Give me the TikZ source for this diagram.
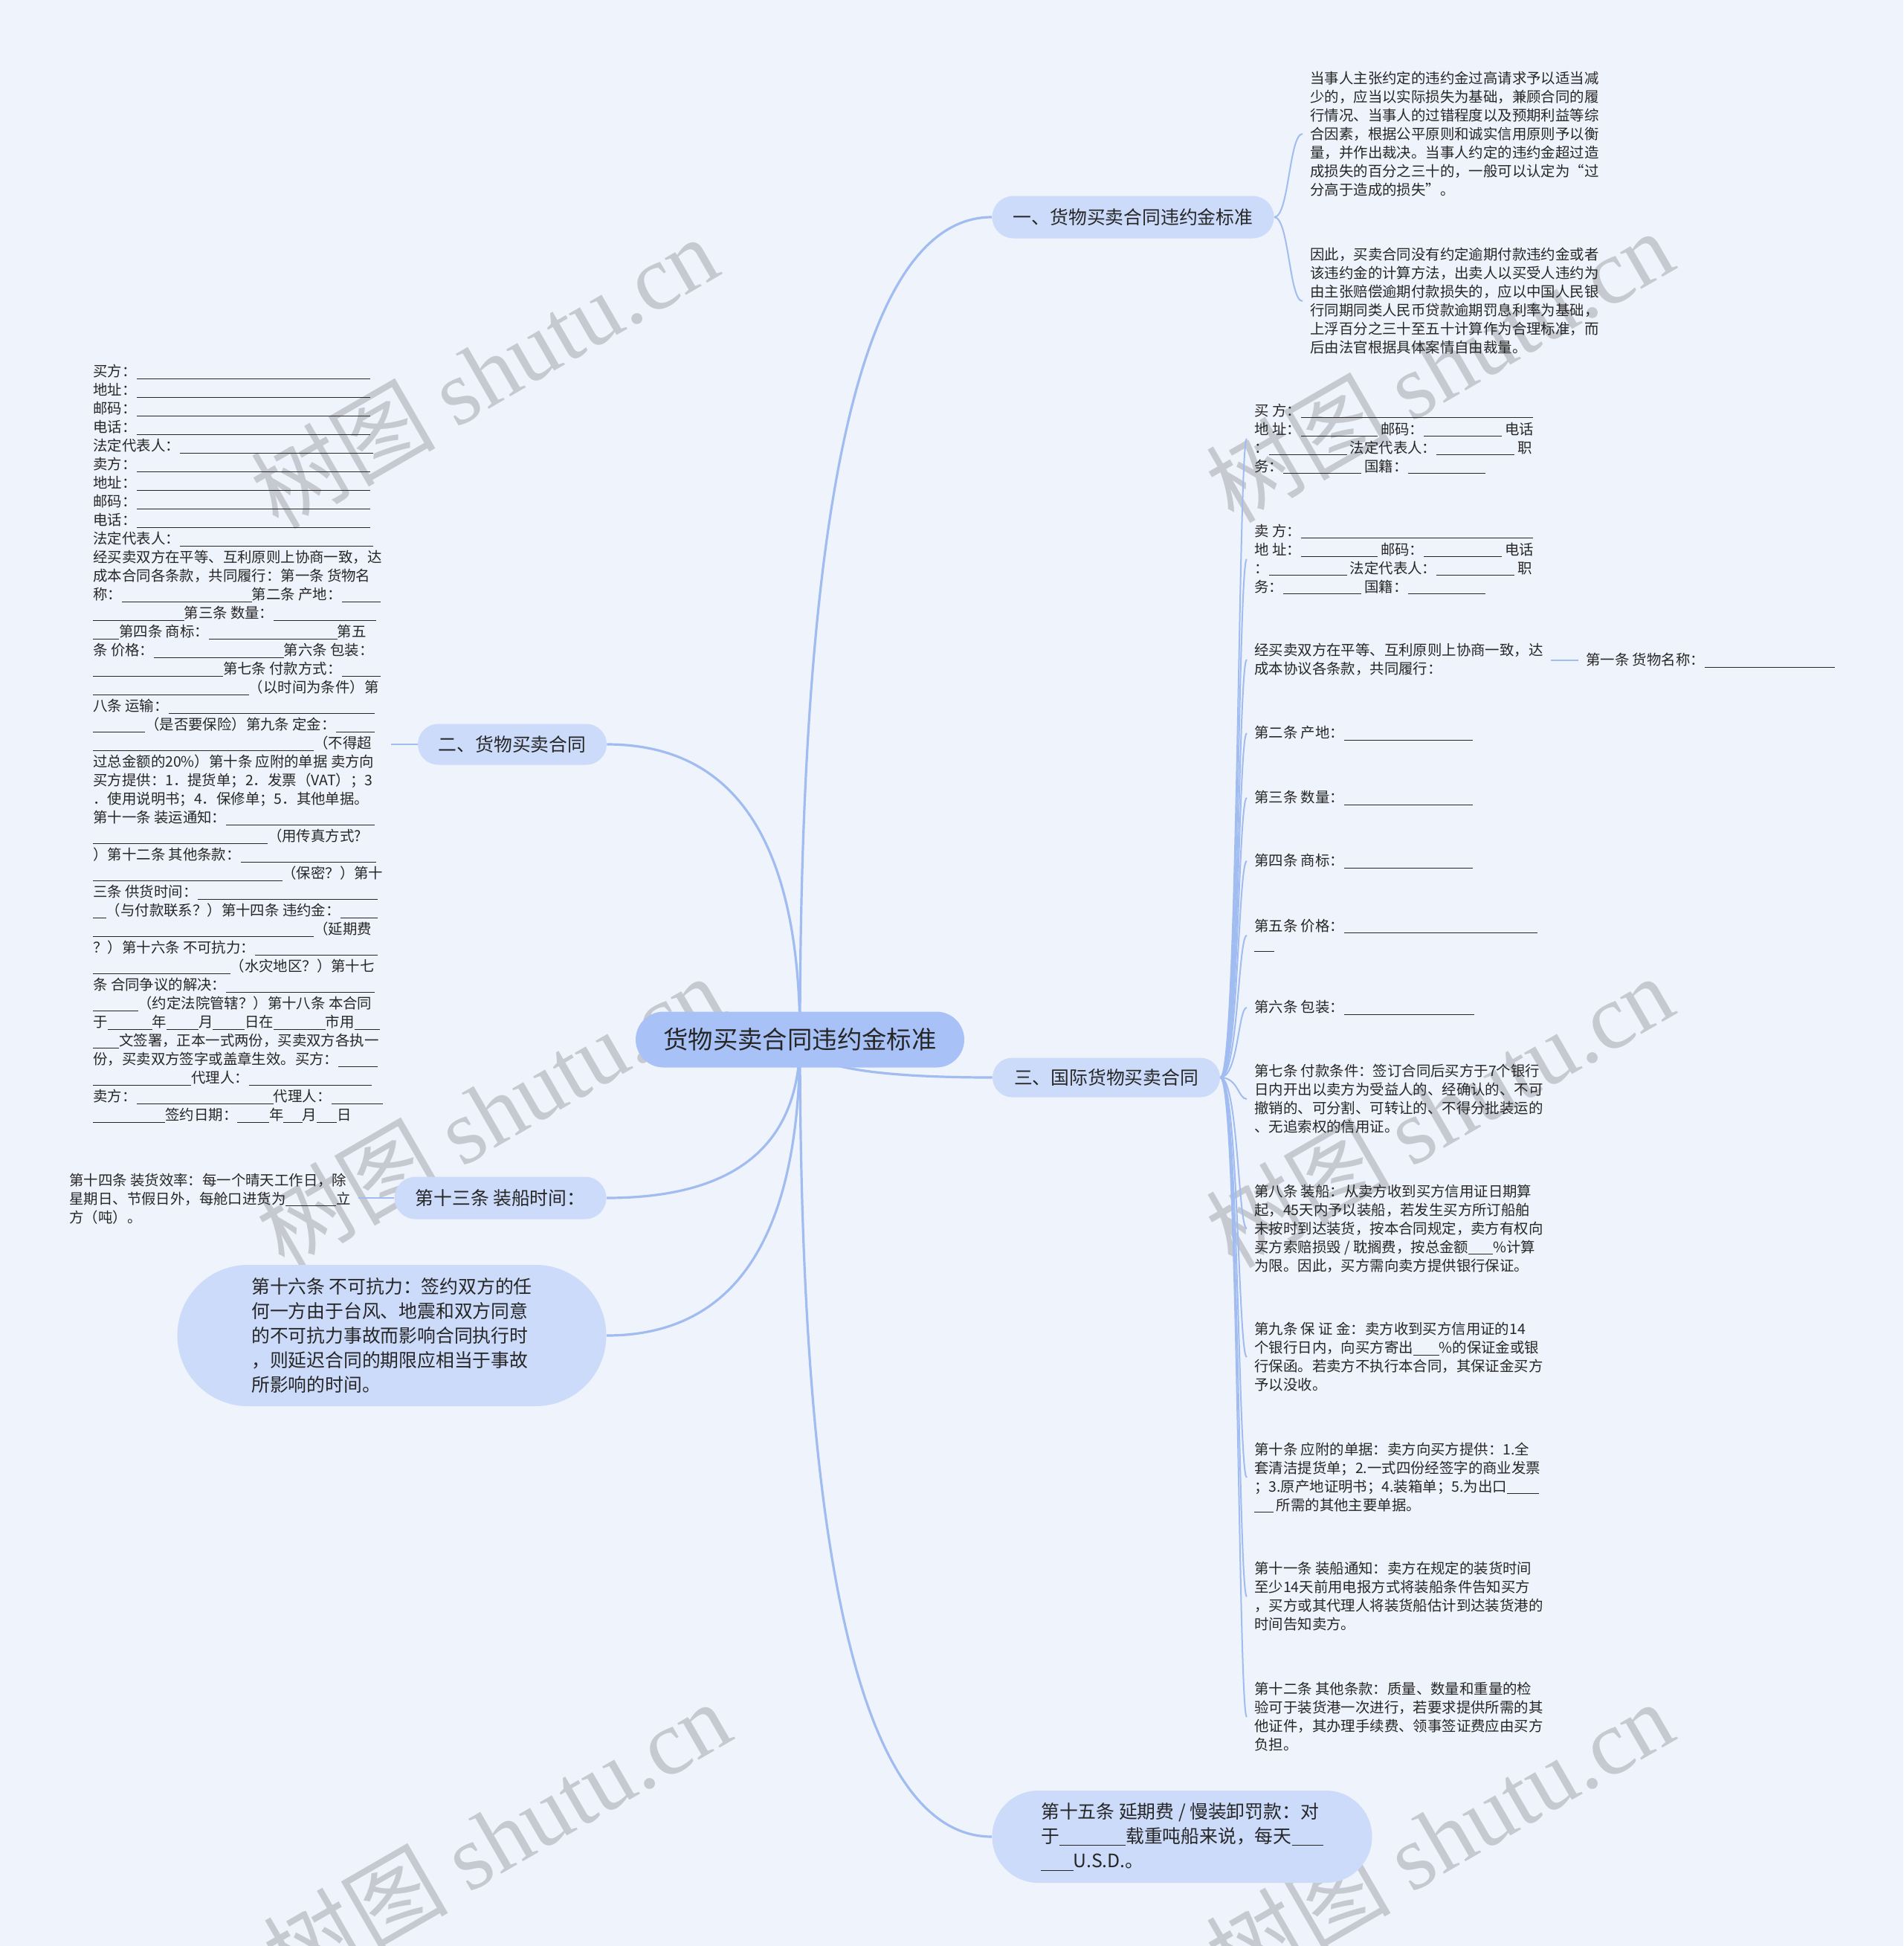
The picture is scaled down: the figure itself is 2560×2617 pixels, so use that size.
\documentclass[tikz,border=0pt]{standalone}
\usepackage{fontspec}
\setmainfont{Noto Sans CJK SC}
\newfontfamily\wmserif{Liberation Serif}
\usetikzlibrary{shapes.misc,calc}
\pgfdeclarelayer{bg}
\pgfsetlayers{bg,main}
\definecolor{bgc}{RGB}{239,243,251}
\definecolor{rootc}{RGB}{168,194,247}
\definecolor{brc}{RGB}{204,219,250}
\definecolor{edgec}{RGB}{160,188,240}
\definecolor{txt}{RGB}{38,38,38}
\definecolor{wmc}{RGB}{150,150,156}
\newcommand\ubl[1]{\rule[-0.15em]{#1}{0.5pt}}
\tikzset{
  small/.style={font=\fontsize{9.7}{12.5}\selectfont, text=txt, align=left, inner xsep=5pt, inner ysep=0pt, anchor=west},
  branch/.style={rounded rectangle, fill=brc, font=\fontsize{12.4}{16.6}\selectfont, text=txt, inner sep=0pt, align=left},
  rootnode/.style={rounded rectangle, fill=rootc, font=\fontsize{16.7}{20}\selectfont, text=txt, inner sep=0pt},
  mainedge/.style={draw=edgec, line width=1.6pt},
  subedge/.style={draw=edgec, line width=1pt},
  wm/.style={text=wmc, text opacity=0.45, font=\fontsize{62}{70}\selectfont, rotate=30, inner sep=0pt}
}
\begin{document}
\begin{tikzpicture}[x=0.5pt,y=-0.5pt]
\useasboundingbox (0,0) rectangle (2560,2617);
\begin{pgfonlayer}{bg}
\fill[bgc] (0,0) rectangle (2560,2617);
\node[wm] (w1) at (651,500) {树图 {\wmserif shutu.cn}};
\node[wm] (w2) at (1936,492) {树图 {\wmserif shutu.cn}};
\node[wm] (w3) at (659,1494) {树图 {\wmserif shutu.cn}};
\node[wm] (w4) at (1936,1494) {树图 {\wmserif shutu.cn}};
\node[wm] (w5) at (668,2470) {树图 {\wmserif shutu.cn}};
\node[wm] (w6) at (1936,2470) {树图 {\wmserif shutu.cn}};
\end{pgfonlayer}

% main nodes
\node[rootnode, minimum width=221pt, minimum height=37.5pt] (c) at (1076,1398) {货物买卖合同违约金标准};
\node[branch, minimum width=189.5pt, minimum height=28.5pt] (s1) at (1524,292) {一、货物买卖合同违约金标准};
\node[branch, minimum width=127pt, minimum height=27.5pt] (s2) at (689,1001) {二、货物买卖合同};
\node[branch, minimum width=153pt, minimum height=26.5pt] (s3) at (1488,1449) {三、国际货物买卖合同};
\node[branch, minimum width=142.5pt, minimum height=28.5pt] (s13) at (673,1611) {第十三条 装船时间：};
\node[branch, minimum width=288.5pt, minimum height=95pt] (s16) at (527,1796) {第十六条 不可抗力：签约双方的任\\何一方由于台风、地震和双方同意\\的不可抗力事故而影响合同执行时\\，则延迟合同的期限应相当于事故\\所影响的时间。};
\node[branch, minimum width=255.5pt, minimum height=62pt] (s15) at (1590,2470) {第十五条 延期费 / 慢装卸罚款：对\\于\ubl{3.6em}载重吨船来说，每天\ubl{1.7em}\\\ubl{1.75em}U.S.D.。};

% branch one children
\node[small] (b1a) at (1752,180) {当事人主张约定的违约金过高请求予以适当减\\少的，应当以实际损失为基础，兼顾合同的履\\行情况、当事人的过错程度以及预期利益等综\\合因素，根据公平原则和诚实信用原则予以衡\\量，并作出裁决。当事人约定的违约金超过造\\成损失的百分之三十的，一般可以认定为“过\\分高于造成的损失”。};
\node[small] (b1b) at (1752,405) {因此，买卖合同没有约定逾期付款违约金或者\\该违约金的计算方法，出卖人以买受人违约为\\由主张赔偿逾期付款损失的，应以中国人民银\\行同期同类人民币贷款逾期罚息利率为基础，\\上浮百分之三十至五十计算作为合理标准，而\\后由法官根据具体案情自由裁量。};

% branch two child
\node[small] (L) at (115,1000) {买方：\ubl{16.2em}\\
地址：\ubl{16.2em}\\
邮码：\ubl{16.2em}\\
电话：\ubl{16.2em}\\
法定代表人：\ubl{13.4em}\\
卖方：\ubl{16.2em}\\
地址：\ubl{16.2em}\\
邮码：\ubl{16.2em}\\
电话：\ubl{16.2em}\\
法定代表人：\ubl{13.4em}\\
经买卖双方在平等、互利原则上协商一致，达\\
成本合同各条款，共同履行：第一条 货物名\\
称：\ubl{9em}第二条 产地：\ubl{2.7em}\\
\ubl{6.3em}第三条 数量：\ubl{7.1em}\\
\ubl{1.8em}第四条 商标：\ubl{8.9em}第五\\
条 价格：\ubl{9em}第六条 包装：\\
\ubl{9em}第七条 付款方式：\ubl{2.7em}\\
\ubl{10.8em}（以时间为条件）第\\
八条 运输：\ubl{14.3em}\\
\ubl{3.6em}（是否要保险）第九条 定金：\ubl{2.7em}\\
\ubl{15.3em}（不得超\\
过总金额的20\%）第十条 应附的单据 卖方向\\
买方提供：1．提货单；2．发票（VAT）；3\\
．使用说明书；4．保修单；5．其他单据。\\
第十一条 装运通知：\ubl{10.3em}\\
\ubl{12.1em}（用传真方式?\\
）第十二条 其他条款：\ubl{9.4em}\\
\ubl{13.1em}（保密？）第十\\
三条 供货时间：\ubl{12.5em}\\
\ubl{0.9em}（与付款联系？）第十四条 违约金：\ubl{2.6em}\\
\ubl{15.3em}（延期费\\
？）第十六条 不可抗力：\ubl{8.5em}\\
\ubl{9.5em}（水灾地区？）第十七\\
条 合同争议的解决：\ubl{10.3em}\\
\ubl{3.1em}（约定法院管辖？）第十八条 本合同\\
于\ubl{3.1em}年\ubl{2.2em}月\ubl{2.2em}日在\ubl{3.6em}市用\ubl{1.8em}\\
\ubl{1.8em}文签署，正本一式两份，买卖双方各执一\\
份，买卖双方签字或盖章生效。买方：\ubl{2.7em}\\
\ubl{6.8em}代理人：\ubl{8.5em}\\
卖方：\ubl{9.5em}代理人：\ubl{3.6em}\\
\ubl{5em}签约日期：\ubl{2.2em}年\ubl{1.3em}月\ubl{1.4em}日};

% branch 13 child
\node[small] (K) at (83,1612) {第十四条 装货效率：每一个晴天工作日，除\\星期日、节假日外，每舱口进货为\ubl{3.5em}立\\方（吨）。};

% branch three children
\node[small] (r1) at (1677,590) {买 方：\ubl{16.1em}\\地 址：\ubl{5.3em} 邮码：\ubl{5.4em} 电话\\：\ubl{5.4em} 法定代表人：\ubl{5.4em} 职\\务：\ubl{5.4em} 国籍：\ubl{5.4em}};
\node[small] (r2) at (1677,752) {卖 方：\ubl{16.1em}\\地 址：\ubl{5.3em} 邮码：\ubl{5.4em} 电话\\：\ubl{5.4em} 法定代表人：\ubl{5.4em} 职\\务：\ubl{5.4em} 国籍：\ubl{5.4em}};
\node[small] (r3) at (1677,887) {经买卖双方在平等、互利原则上协商一致，达\\成本协议各条款，共同履行：};
\node[small] (c1) at (2123,888) {第一条 货物名称：\ubl{9em}};
\node[small] (r4) at (1677,986) {第二条 产地：\ubl{8.9em}};
\node[small] (r5) at (1677,1073) {第三条 数量：\ubl{8.9em}};
\node[small] (r6) at (1677,1158) {第四条 商标：\ubl{8.9em}};
\node[small] (r7) at (1677,1258) {第五条 价格：\ubl{13.4em}\\\ubl{1.35em}};
\node[small] (r8) at (1677,1355) {第六条 包装：\ubl{9em}};
\node[small] (r9) at (1677,1478) {第七条 付款条件：签订合同后买方于7个银行\\日内开出以卖方为受益人的、经确认的、不可\\撤销的、可分割、可转让的、不得分批装运的\\、无追索权的信用证。};
\node[small] (r10) at (1677,1652) {第八条 装船：从卖方收到买方信用证日期算\\起，45天内予以装船，若发生买方所订船舶\\未按时到达装货，按本合同规定，卖方有权向\\买方索赔损毁 / 耽搁费，按总金额\ubl{1.7em}\%计算\\为限。因此，买方需向卖方提供银行保证。};
\node[small] (r11) at (1677,1825) {第九条 保 证 金：卖方收到买方信用证的14\\个银行日内，向买方寄出\ubl{1.8em}\%的保证金或银\\行保函。若卖方不执行本合同，其保证金买方\\予以没收。};
\node[small] (r12) at (1677,1987) {第十条 应附的单据：卖方向买方提供：1.全\\套清洁提货单；2.一式四份经签字的商业发票\\；3.原产地证明书；4.装箱单；5.为出口\ubl{2.2em}\\\ubl{1.3em} 所需的其他主要单据。};
\node[small] (r13) at (1677,2147) {第十一条 装船通知：卖方在规定的装货时间\\至少14天前用电报方式将装船条件告知买方\\，买方或其代理人将装货船估计到达装货港的\\时间告知卖方。};
\node[small] (r14) at (1677,2309) {第十二条 其他条款：质量、数量和重量的检\\验可于装货港一次进行，若要求提供所需的其\\他证件，其办理手续费、领事签证费应由买方\\负担。};

\begin{pgfonlayer}{bg}
% main branches from the root
\foreach \t/\a in {s1/west, s3/west, s15/west, s2/east, s13/east, s16/east}{
  \draw[mainedge] (c.center) .. controls ($(c.center)!0.667!(c.center |- \t.\a)$) and ($(\t.\a)!0.667!(c.center |- \t.\a)$) .. (\t.\a);
}
% branch one
\foreach \t in {b1a, b1b}{
  \draw[subedge] (s1.east) .. controls ($(s1.east)+(20,0)$) and ($(s1.east |- \t.west)+(20,0)$) .. (\t.west);
}
% branch three
\foreach \t in {r1,r2,r3,r4,r5,r6,r7,r8,r9,r10,r11,r12,r13,r14}{
  \draw[subedge] (s3.east) .. controls ($(s3.east)+(24,0)$) and ($(s3.east |- \t.west)+(24,0)$) .. (\t.west);
}
\draw[subedge] (r3.east |- c1.west) -- (c1.west);
\draw[subedge] (L.east |- s2.west) -- (s2.west);
\draw[subedge] (K.east |- s13.west) -- (s13.west);
\end{pgfonlayer}
\end{tikzpicture}
\end{document}
